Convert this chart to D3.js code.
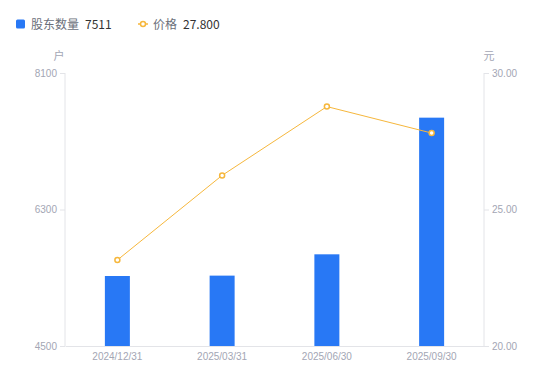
<!DOCTYPE html>
<html>
<head>
<meta charset="utf-8">
<script src="https://cdn.jsdelivr.net/npm/d3@7"></script>
<style>
  html, body { margin: 0; padding: 0; background: #fff; }
  svg { display: block; font-family: "Noto Sans CJK SC", "Noto Sans", sans-serif; }
  .axis-text { fill: #a3a6b4; font-size: 10px; }
  .legend-name { fill: #6b6f7a; font-size: 12px; }
  .legend-value { fill: #333; font-size: 12px; }
</style>
</head>
<body>
<div id="chart"></div>
<script>
// Shareholder count (bars, left axis) and price (line, right axis)
const categories = ["2024/12/31", "2025/03/31", "2025/06/30", "2025/09/30"];
const holders = [5423, 5428, 5709, 7511];
const prices = [23.15, 26.25, 28.77, 27.80];
const leftTicks = [4500, 6300, 8100];
const rightTicks = [20, 25, 30];

const WIDTH = 550;
const HEIGHT = 381;
const MARGIN = { top: 73, right: 66, bottom: 35, left: 65 };
const INNER_W = WIDTH - MARGIN.left - MARGIN.right;
const INNER_H = HEIGHT - MARGIN.top - MARGIN.bottom;

const BAR_COLOR = "#2878f5";
const LINE_COLOR = "#f6b73c";
const AXIS_COLOR = "#e3e4e8";

const svg = d3.select("#chart")
    .append("svg")
    .attr("width", WIDTH)
    .attr("height", HEIGHT);

const g = svg.append("g")
    .attr("transform", `translate(${MARGIN.left},${MARGIN.top})`);

// Scales
const x = d3.scaleBand()
    .domain(categories)
    .range([0, INNER_W]);

const y = d3.scaleLinear()
    .domain([4500, 8100])
    .range([INNER_H, 0]);

const yPrice = d3.scaleLinear()
    .domain([20, 30])
    .range([INNER_H, 0]);

const BAR_W = 25;

// Bars
g.selectAll("rect.bar")
    .data(holders)
    .join("rect")
    .attr("class", "bar")
    .attr("x", (d, i) => x(categories[i]) + x.bandwidth() / 2 - BAR_W / 2)
    .attr("y", (d) => y(d))
    .attr("width", BAR_W)
    .attr("height", (d) => INNER_H - y(d))
    .attr("fill", BAR_COLOR);

// Left axis
const yAxisLeft = g.append("g")
    .call(
        d3.axisLeft(y)
            .tickValues(leftTicks)
            .tickFormat((v) => String(v))
            .tickSize(5)
            .tickPadding(3),
    );
yAxisLeft.select(".domain").attr("stroke", AXIS_COLOR).attr("d", `M0,0V${INNER_H}`);
yAxisLeft.selectAll(".tick line").attr("stroke", AXIS_COLOR);
yAxisLeft.selectAll(".tick text").attr("class", "axis-text");

// Right axis
const yAxisRight = g.append("g")
    .attr("transform", `translate(${INNER_W},0)`)
    .call(
        d3.axisRight(yPrice)
            .tickValues(rightTicks)
            .tickFormat((v) => v.toFixed(2))
            .tickSize(5)
            .tickPadding(3),
    );
yAxisRight.select(".domain").attr("stroke", AXIS_COLOR).attr("d", `M0,0V${INNER_H}`);
yAxisRight.selectAll(".tick line").attr("stroke", AXIS_COLOR);
yAxisRight.selectAll(".tick text").attr("class", "axis-text");

// Bottom axis
const xAxis = g.append("g")
    .attr("transform", `translate(0,${INNER_H})`)
    .call(d3.axisBottom(x).tickSize(0).tickPadding(7));
xAxis.select(".domain").attr("stroke", AXIS_COLOR);
xAxis.selectAll(".tick text").attr("class", "axis-text");

// Axis unit labels
g.append("text")
    .attr("class", "axis-text")
    .attr("x", -6)
    .attr("y", -13)
    .attr("text-anchor", "middle")
    .style("font-size", "11px")
    .text("户");
g.append("text")
    .attr("class", "axis-text")
    .attr("x", INNER_W + 5)
    .attr("y", -13)
    .attr("text-anchor", "middle")
    .style("font-size", "11px")
    .text("元");

// Price line
const line = d3.line()
    .x((d, i) => x(categories[i]) + x.bandwidth() / 2)
    .y((d) => yPrice(d));

g.append("path")
    .datum(prices)
    .attr("d", line)
    .attr("fill", "none")
    .attr("stroke", LINE_COLOR)
    .attr("stroke-width", 1);

g.selectAll("circle.pt")
    .data(prices)
    .join("circle")
    .attr("class", "pt")
    .attr("cx", (d, i) => x(categories[i]) + x.bandwidth() / 2)
    .attr("cy", (d) => yPrice(d))
    .attr("r", 2.5)
    .attr("fill", "#fff")
    .attr("stroke", LINE_COLOR)
    .attr("stroke-width", 1.5);

// Legend
const legend = svg.append("g").attr("transform", "translate(16,24)");
legend.append("rect")
    .attr("x", 0).attr("y", -4.5)
    .attr("width", 9).attr("height", 9)
    .attr("rx", 1.5)
    .attr("fill", BAR_COLOR);
legend.append("text")
    .attr("class", "legend-name")
    .attr("x", 15).attr("y", 4.5)
    .text("股东数量");
legend.append("text")
    .attr("class", "legend-value")
    .attr("x", 69).attr("y", 4.5)
    .text(String(holders[holders.length - 1]));

const priceLegend = legend.append("g").attr("transform", "translate(122,0)");
priceLegend.append("line")
    .attr("x1", 0).attr("x2", 10)
    .attr("stroke", LINE_COLOR)
    .attr("stroke-width", 1.5);
priceLegend.append("circle")
    .attr("cx", 5).attr("r", 2.5)
    .attr("fill", "#fff")
    .attr("stroke", LINE_COLOR)
    .attr("stroke-width", 1.5);
priceLegend.append("text")
    .attr("class", "legend-name")
    .attr("x", 15).attr("y", 4.5)
    .text("价格");
priceLegend.append("text")
    .attr("class", "legend-value")
    .attr("x", 45).attr("y", 4.5)
    .text(prices[prices.length - 1].toFixed(3));
</script>
</body>
</html>
